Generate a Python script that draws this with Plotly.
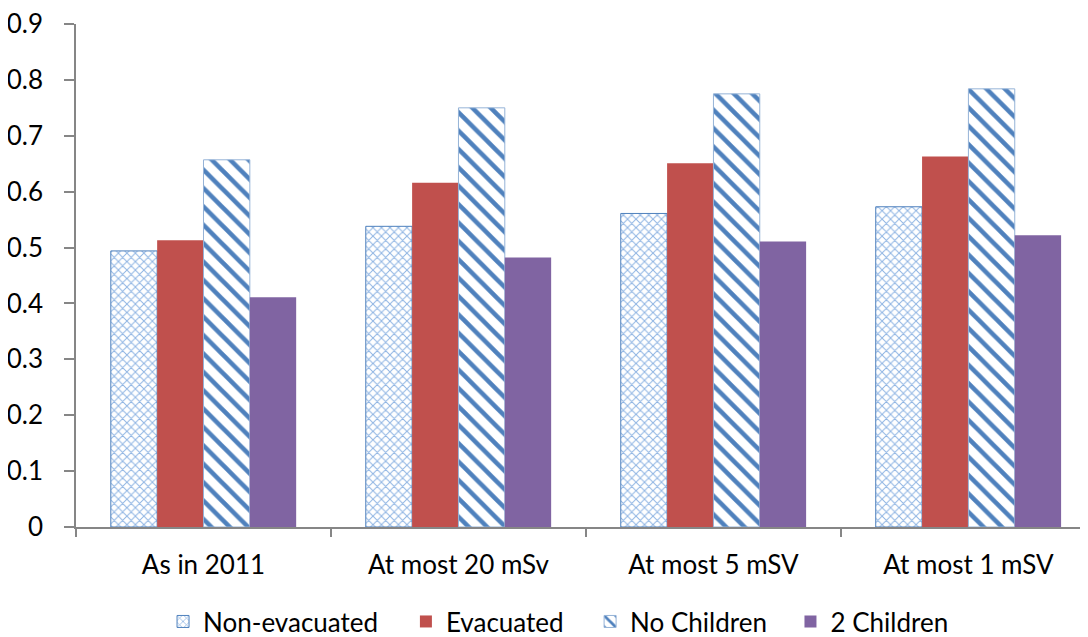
import plotly.graph_objects as go

categories = ["As in 2011", "At most 20 mSv", "At most 5 mSV", "At most 1 mSV"]
non_evacuated = [0.494, 0.538, 0.561, 0.573]
evacuated = [0.513, 0.616, 0.651, 0.663]
no_children = [0.657, 0.750, 0.775, 0.784]
two_children = [0.411, 0.482, 0.511, 0.522]

FONT = "Lato"
AXIS = "#868686"
FS = 26

fig = go.Figure()
fig.add_trace(go.Bar(
    name="Non-evacuated", x=categories, y=non_evacuated, legend="legend",
    marker=dict(color="white",
                line=dict(color="#4F81BD", width=1),
                pattern=dict(shape="x", fgcolor="#8EB4E3", bgcolor="white",
                             size=6, solidity=0.3, fillmode="replace")),
))
fig.add_trace(go.Bar(
    name="Evacuated", x=categories, y=evacuated, legend="legend2",
    marker=dict(color="#C0504D", line=dict(width=0)),
))
fig.add_trace(go.Bar(
    name="No Children", x=categories, y=no_children, legend="legend3",
    marker=dict(color="white",
                line=dict(color="#95B3D7", width=1),
                pattern=dict(shape="\\", fgcolor="#4F81BD", bgcolor="white",
                             size=13, solidity=0.35, fillmode="replace")),
))
fig.add_trace(go.Bar(
    name="2 Children", x=categories, y=two_children, legend="legend4",
    marker=dict(color="#8064A2", line=dict(width=0)),
))

LEG_Y = -0.188


def leg(xpos):
    return dict(orientation="h", x=xpos, xanchor="left",
                y=LEG_Y, yanchor="middle", bgcolor="rgba(0,0,0,0)",
                font=dict(family=FONT, size=FS, color="black"),
                itemwidth=30)


fig.update_layout(
    width=1080, height=629,
    margin=dict(l=68, r=0, t=16, b=110, autoexpand=False),
    paper_bgcolor="white", plot_bgcolor="white",
    barmode="group", bargap=0.273, bargroupgap=0,
    font=dict(family=FONT, size=FS, color="black"),
    showlegend=True,
    legend=leg(0.086),
    legend2=leg(0.326),
    legend3=leg(0.508),
    legend4=leg(0.706),
)
fig.update_xaxes(
    range=[-0.5, 3.469], automargin=False,
    showline=True, linecolor=AXIS, linewidth=1.5,
    ticks="outside", ticklen=8, tickcolor=AXIS, tickwidth=1.5,
    tickson="boundaries", showgrid=False, zeroline=False,
    tickfont=dict(family=FONT, size=FS, color="black"),
    ticklabelstandoff=14,
)
fig.update_yaxes(
    range=[0, 0.9], dtick=0.1, tick0=0, automargin=False,
    showline=True, linecolor=AXIS, linewidth=1.5,
    ticks="outside", ticklen=10, tickcolor=AXIS, tickwidth=1.5,
    showgrid=False, zeroline=False, ticklabeloverflow="allow",
    tickfont=dict(family=FONT, size=FS, color="black"),
    ticklabelstandoff=16,
)

fig.write_html("out.html")
